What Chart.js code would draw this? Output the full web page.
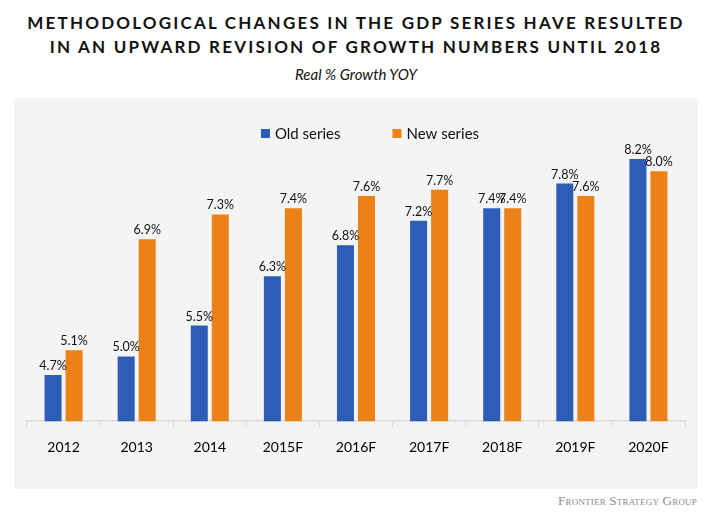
<!DOCTYPE html>
<html>
<head>
<meta charset="utf-8">
<script src="https://cdn.jsdelivr.net/npm/chart.js@4.4.1/dist/chart.umd.min.js"></script>
<style>
  body { margin: 0; background: #fff; width: 712px; height: 515px; position: relative; overflow: hidden; font-family: Lato, sans-serif; }
  #title { position: absolute; top: 11px; left: 0; width: 712px; text-align: center; font-weight: bold; font-size: 17px; letter-spacing: 2.2px; line-height: 24px; color: #111; }
  #subtitle { position: absolute; top: 65px; left: 0; width: 712px; text-align: center; font-style: italic; font-size: 15px; color: #111; }
  #panel { position: absolute; left: 14px; top: 98px; width: 684px; height: 391px; background: #f4f4f4; }
  #footer { position: absolute; right: 15px; top: 493px; font-family: "Liberation Serif", serif; font-variant: small-caps; font-size: 13px; color: #8a8a8a; letter-spacing: 0.2px; }
</style>
</head>
<body>
<div id="title">METHODOLOGICAL CHANGES IN THE GDP SERIES HAVE RESULTED<br>IN AN UPWARD REVISION OF GROWTH NUMBERS UNTIL 2018</div>
<div id="subtitle">Real % Growth YOY</div>
<div id="panel"><canvas id="gdpChart" width="684" height="391"></canvas></div>
<div id="footer">Frontier Strategy Group</div>
<script>
const categories = ['2012', '2013', '2014', '2015F', '2016F', '2017F', '2018F', '2019F', '2020F']
const oldSeries = [4.7, 5.0, 5.5, 6.3, 6.8, 7.2, 7.4, 7.8, 8.2]
const newSeries = [5.1, 6.9, 7.3, 7.4, 7.6, 7.7, 7.4, 7.6, 8.0]

// labels above each bar
const barLabels = {
    id: 'barLabels',
    afterDatasetsDraw(chart) {
        const ctx = chart.ctx
        ctx.save()
        ctx.font = '12.5px Lato'
        ctx.fillStyle = '#111'
        ctx.textAlign = 'center'
        ctx.textBaseline = 'alphabetic'
        chart.data.datasets.forEach((ds, i) => {
            chart.getDatasetMeta(i).data.forEach((bar, j) => {
                ctx.fillText(ds.data[j].toFixed(1) + '%', bar.x, bar.y - 5)
            })
        })
        ctx.restore()
    }
}

// legend with wide gap between items (built-in one can't space them like this)
const wideLegend = {
    id: 'wideLegend',
    afterDraw(chart) {
        const ctx = chart.ctx
        const box = 9, gap = 5, spacing = 52
        ctx.save()
        ctx.font = '15px Lato'
        ctx.textBaseline = 'middle'
        const items = chart.data.datasets.map(ds => ({ text: ds.label, color: ds.backgroundColor, w: ctx.measureText(ds.label).width }))
        const total = items.reduce((s, it) => s + box + gap + it.w, 0) + spacing * (items.length - 1)
        let x = (chart.chartArea.left + chart.chartArea.right) / 2 + 14 - total / 2
        const y = 36
        items.forEach(it => {
            ctx.fillStyle = it.color
            ctx.fillRect(x, y - 5, box, box)
            x += box + gap
            ctx.fillStyle = '#111'
            ctx.fillText(it.text, x, y)
            x += it.w + spacing
        })
        ctx.restore()
    }
}

var ctx = document.getElementById('gdpChart').getContext('2d')
var gdpChart = new Chart(ctx, {
    type: 'bar',
    data: {
        labels: categories,
        datasets: [{
            label: 'Old series',
            data: oldSeries,
            backgroundColor: '#2E5DB8',
            categoryPercentage: 0.575,
            barPercentage: 0.81
        }, {
            label: 'New series',
            data: newSeries,
            backgroundColor: '#EC8217',
            categoryPercentage: 0.575,
            barPercentage: 0.81
        }]
    },
    options: {
        responsive: false,
        animation: false,
        layout: { padding: { left: 13, right: 13, top: 56, bottom: 21 } },
        plugins: {
            legend: { display: false },
            tooltip: { enabled: false }
        },
        scales: {
            x: {
                grid: { drawOnChartArea: false, color: '#d9d9d9', tickLength: 6 },
                border: { color: '#d9d9d9', width: 1.5 },
                ticks: { color: '#000', padding: 12, font: { family: 'Lato', size: 14 } }
            },
            y: {
                display: false,
                min: 3.95,
                max: 8.28
            }
        }
    },
    plugins: [barLabels, wideLegend]
})
</script>
</body>
</html>
